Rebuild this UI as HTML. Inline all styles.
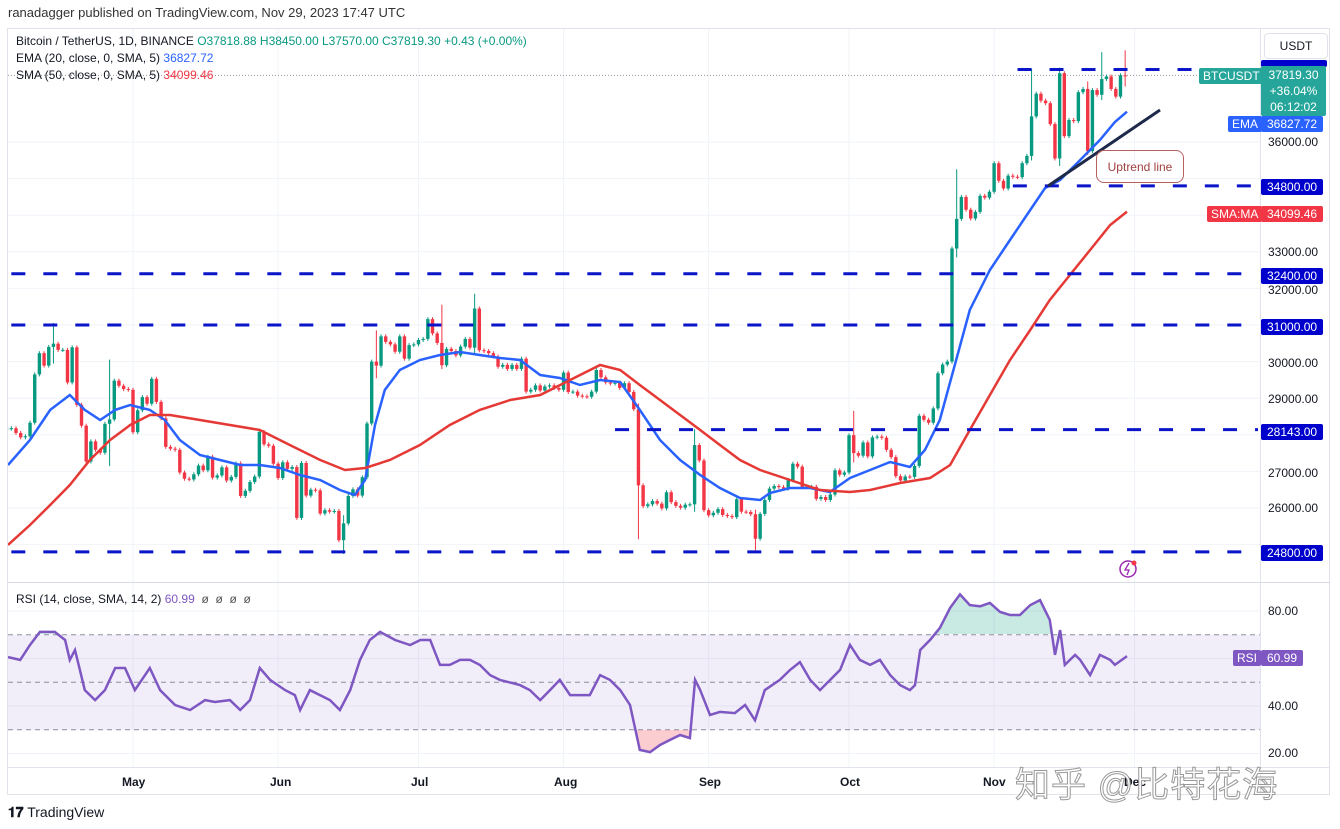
<!DOCTYPE html>
<html><head><meta charset="utf-8">
<style>
body{margin:0;width:1340px;height:829px;background:#fff;overflow:hidden;font-family:"Liberation Sans",sans-serif;position:relative;color:#131722}
.a{position:absolute;white-space:nowrap}
.ax{position:absolute;left:1268px;font-size:12px;color:#131722}
.tag{position:absolute;font-size:12px;color:#fff;padding:1px 4px;border-radius:2px}
.tm{position:absolute;top:775px;font-size:12px;font-weight:bold;color:#131722}
</style></head><body>
<div class="a" style="left:8px;top:5px;font-size:13px;color:#333">ranadagger published on TradingView.com, Nov 29, 2023 17:47 UTC</div>
<div class="a" style="left:7px;top:28px;width:1323px;height:767px;border:1px solid #e0e3eb;box-sizing:border-box"></div>
<svg id="chart" width="1340" height="829" style="position:absolute;left:0;top:0"></svg>
<div class="a" style="left:16px;top:34px;font-size:12px">Bitcoin / TetherUS, 1D, BINANCE <span style="color:#089981">O37818.88 H38450.00 L37570.00 C37819.30 +0.43 (+0.00%)</span></div>
<div class="a" style="left:16px;top:51px;font-size:12px">EMA (20, close, 0, SMA, 5) <span style="color:#2962ff">36827.72</span></div>
<div class="a" style="left:16px;top:68px;font-size:12px">SMA (50, close, 0, SMA, 5) <span style="color:#f23645">34099.46</span></div>
<div class="a" style="left:16px;top:592px;font-size:12px">RSI (14, close, SMA, 14, 2) <span style="color:#7e57c2">60.99</span> <span style="color:#555">&nbsp;ø&nbsp; ø&nbsp; ø&nbsp; ø</span></div>
<div class="a" style="left:1264px;top:33px;width:62px;height:24px;border:1px solid #e0e3eb;border-radius:4px;font-size:12px;text-align:center;line-height:24px">USDT</div>
<div class="ax" style="top:135px">36000.00</div>
<div class="ax" style="top:245px">33000.00</div>
<div class="ax" style="top:283px">32000.00</div>
<div class="ax" style="top:356px">30000.00</div>
<div class="ax" style="top:392px">29000.00</div>
<div class="ax" style="top:466px">27000.00</div>
<div class="ax" style="top:501px">26000.00</div>
<div class="ax" style="top:604px">80.00</div>
<div class="ax" style="top:699px">40.00</div>
<div class="ax" style="top:746px">20.00</div>
<div class="tag" style="left:1261px;top:60px;background:#0000cc;width:58px;height:5px;overflow:hidden"></div>
<div class="tag" style="left:1199px;top:68px;background:#26a69a">BTCUSDT</div>
<div class="tag" style="left:1261px;top:66px;background:#26a69a;width:59px;line-height:16px;text-align:center;padding:1px 3px">37819.30<br>+36.04%<br>06:12:02</div>
<div class="tag" style="left:1228px;top:116px;background:#2962ff">EMA</div>
<div class="tag" style="left:1261px;top:116px;background:#2962ff;padding:1px 6px">36827.72</div>
<div class="tag" style="left:1261px;top:179px;background:#0000cc;padding:1px 6px">34800.00</div>
<div class="tag" style="left:1207px;top:206px;background:#f23645">SMA:MA</div>
<div class="tag" style="left:1261px;top:206px;background:#f23645;padding:1px 6px">34099.46</div>
<div class="tag" style="left:1261px;top:268px;background:#0000cc;padding:1px 6px">32400.00</div>
<div class="tag" style="left:1261px;top:319px;background:#0000cc;padding:1px 6px">31000.00</div>
<div class="tag" style="left:1261px;top:424px;background:#0000cc;padding:1px 6px">28143.00</div>
<div class="tag" style="left:1261px;top:545px;background:#0000cc;padding:1px 6px">24800.00</div>
<div class="tag" style="left:1233px;top:650px;background:#7e57c2">RSI</div>
<div class="tag" style="left:1261px;top:650px;background:#7e57c2;padding:1px 6px">60.99</div>
<div class="a" style="left:1096px;top:150px;width:88px;height:33px;border:1.5px solid #b86060;border-radius:8px;font-size:12px;color:#a04040;text-align:center;line-height:33px;box-sizing:border-box">Uptrend line</div>
<div class="tm" style="left:122px">May</div>
<div class="tm" style="left:270px">Jun</div>
<div class="tm" style="left:411px">Jul</div>
<div class="tm" style="left:554px">Aug</div>
<div class="tm" style="left:699px">Sep</div>
<div class="tm" style="left:840px">Oct</div>
<div class="tm" style="left:983px">Nov</div>
<div class="tm" style="left:1124px">Dec</div>
<div class="a" style="left:1015px;top:757px;font-size:35px;color:#fff;font-family:'Liberation Sans','Noto Sans CJK SC',sans-serif;-webkit-text-stroke:1px #999;letter-spacing:1px">知乎 @比特花海</div>
<div class="a" style="left:8px;top:804px;font-size:14px;color:#131722"><b>𝟏𝟕</b> TradingView</div>
<script>
const closes=[28170,28180,28050,27930,27960,28330,29650,30230,29890,30400,30490,30320,30320,29430,30390,28820,28250,27270,27820,27590,27510,28300,28420,29480,29340,29250,29230,
28070,28670,29030,28850,29530,28900,28450,27670,27620,27590,26970,26800,26780,26920,27160,27030,27400,26830,26890,27110,26750,26850,27220,26330,26470,26710,26860,28080,27740,27700,27210,
26820,27250,27070,27120,25730,27230,26340,26500,26480,25850,25940,25900,25920,25120,25580,26330,26510,26340,26840,28310,30000,29890,30690,30540,30470,30270,30690,30080,30450,30470,
30590,30620,31160,30770,30510,29900,30350,30290,30170,30410,30620,30380,31450,30310,30290,30230,30140,29860,29910,29800,29910,29800,30080,29180,29230,29350,29210,29320,29350,29280,29230,
29700,29170,29180,29070,29050,29040,29180,29770,29570,29430,29400,29420,29280,29410,29170,28700,26620,26050,26100,26190,26120,25990,26430,26160,26060,26010,26090,26100,27720,27300,25940,
25800,25870,25970,25810,25780,25750,26240,25900,25890,25830,25160,25840,26220,26530,26600,26570,26530,26760,27210,27130,26570,26580,26580,26250,26300,26220,26370,27030,26910,26970,
27990,27500,27430,27790,27410,27930,27950,27920,27590,27390,26870,26750,26860,26850,27150,28520,28410,28330,28720,29680,29920,30000,33090,33900,34500,34150,33910,34090,34530,34480,34640,
35420,34940,34730,35080,35050,35040,35420,35620,36700,37320,37130,37060,36490,35550,37880,36160,36600,36570,37360,37450,35750,37420,37290,37720,37790,37450,37240,37820,37819.3];
const firstOpen=28160;
const startDay=3;
const spikeDays=[13,25,75,82,96,103,138,150,163,184,206,222,228,234,237,242];
const spikeHighs=[31000,30000,25750,30800,31500,31800,28800,28100,25900,28600,35200,37950,37980,37600,38400,38450];
const spikeLows=[30000,27200,24800,29600,29850,30250,25200,25950,24900,27300,32900,35550,35400,35700,37200,37570];
const emaDays=[3.3,8,12.3,16.5,19.7,23,26.2,29.4,33.6,36.8,40,44.3,48.6,52.9,57.1,61.4,65.7,70,74.2,77.4,79.6,81.7,83.8,87,91.3,95.6,99.9,104.1,108.4,112.7,117,121.2,125.5,129.8,134.1,138.3,142.6,146.9,151.2,155.4,159.7,164,166.1,170.4,174.7,178.9,183.2,187.5,191.8,196,199.2,202.4,205.6,208.8,213.1,217.4,221.7,224.9,228.1,232.4,236.6,239.8,242.4];
const emaVals=[27175,27859,28680,29088,28680,28405,28680,28815,28680,28405,27859,27449,27312,27175,27175,27094,26902,26766,26493,26356,26766,28268,29225,29771,30044,30181,30263,30181,30099,30044,29634,29552,29361,29498,29443,28680,27859,27312,26902,26547,26274,26219,26411,26547,26547,26438,26820,27039,27258,27121,27586,28405,29908,31410,32503,33323,34142,34743,34962,35508,36055,36546,36828];
const smaDays=[3.3,8,12.3,16.5,20.8,25.1,29.4,33.6,37.9,44.3,50.7,57.1,63.5,70,75.3,79.6,84.9,91.3,97.7,104.1,110.6,117,123.4,129.8,134.1,138.3,142.6,146.9,151.2,155.4,159.7,164,170.4,176.8,183.2,187.5,193.9,200.3,204.6,208.8,213.1,217.4,221.7,225.9,230.2,234.5,238.8,242.4];
const smaVals=[24990,25536,26083,26629,27312,27859,28268,28542,28542,28405,28268,28132,27722,27312,27039,27094,27312,27722,28268,28680,28951,29088,29498,29908,29771,29361,28951,28542,28132,27722,27312,27039,26766,26493,26438,26493,26684,26820,27175,28132,29088,30044,30864,31683,32366,33050,33733,34099];
const rsiDays=[3.3,5.9,8,10.1,13.3,15.5,16.5,17.6,19.7,21.9,24,26.2,28.3,30.4,33.6,35.8,39,42.2,45.4,47.5,50.7,52.9,55,57.1,59.3,62.5,64.6,65.7,67.8,72.1,74.2,76.4,78.5,80.6,82.8,86,89.2,91.4,93.5,95.6,97.7,99.9,102,104.1,106.3,108.4,112.7,114.8,117,119.1,121.2,123.4,127.6,129.8,131.9,134.1,136.2,138.3,140.5,142.6,144.7,146.9,149,150.1,151.2,153.3,155.4,158.6,160.8,162.9,165,168.2,170.4,172.5,174.7,176.8,181.1,183.2,185.3,187.5,189.6,191.8,193.9,196,197.1,198.2,200.3,202.4,204.6,206.7,208.8,211,213.1,215.3,217.4,219.5,221.7,223.8,225.9,227,228.1,229.1,231.3,232.4,234.5,236.6,238.8,239.8,242.4];
const rsiVals=[60.6,59.4,65.7,71.2,71.2,67.8,59.4,63.6,46.7,42.5,46.7,56,56,46.7,56,46.7,40.4,38.3,42.5,41.7,42.5,38.3,42.5,56,51,46.7,44.6,38.3,46.7,42.5,38.3,46.7,59.4,67.8,71.2,67.8,65.7,67.8,67.8,57.3,57.3,59.4,59.4,57.3,53,51,48.8,46.7,42.5,46.7,51,44.6,44.6,53,51,46.7,40.4,21.5,20.6,23.6,25.7,27.8,26.5,51,46.7,36.2,37.5,37,40.4,34,46.7,51,55.2,58.5,51,46.7,55.2,65.7,59.4,57.3,59.4,53,48.8,46.7,48.8,63.6,67.8,72.8,81.3,87,82.5,82,83.4,79.6,78.3,78.3,82.5,84.6,76.2,61.5,72,57.3,61.5,59.4,53,61.5,59.4,57.3,61];
const levelPrices=[37980,34800,32400,31000,28143,24800];
const levelStartDays=[219,218,4,4,133,4];
const priceTicks=[36000,35000,34000,33000,32000,31000,30000,29000,28000,27000,26000,25000];
const monthDays=[30,61,91,122,153,183,214,244];

const NS='http://www.w3.org/2000/svg';
const svg=document.getElementById('chart');
const X=d=>133+(d-30)*4.68;
const Y=p=>142+(36000-p)*0.0366;
const RY=v=>611+(80-v)*2.375;
function mk(tag,at,parent){const e=document.createElementNS(NS,tag);for(const k in at)e.setAttribute(k,at[k]);(parent||svg).appendChild(e);return e;}
const defs=mk('defs',{});
const cp=mk('clipPath',{id:'mainclip'},defs);mk('rect',{x:8,y:29,width:1252,height:552},cp);
const cr=mk('clipPath',{id:'rsiclip'},defs);mk('rect',{x:8,y:584,width:1252,height:183},cr);
const cob=mk('clipPath',{id:'obclip'},defs);mk('rect',{x:8,y:584,width:1252,height:50},cob);
const cos=mk('clipPath',{id:'osclip'},defs);mk('rect',{x:8,y:730,width:1252,height:40},cos);
for(const d of monthDays){const l=mk('line',{x1:X(d),x2:X(d),y1:29,y2:767,stroke:'#f0f3fa'});

}
for(const p of priceTicks){const l=mk('line',{x1:8,x2:1260,y1:Y(p),y2:Y(p),stroke:'#f0f3fa'});

}
for(const v of [80,60,40,20]){const l=mk('line',{x1:8,x2:1260,y1:RY(v),y2:RY(v),stroke:'#f0f3fa'});

}
mk('line',{x1:8,x2:1330,y1:582.5,y2:582.5,stroke:'#d8dbe3'});
mk('line',{x1:8,x2:1330,y1:767.5,y2:767.5,stroke:'#e0e3eb'});
mk('line',{x1:1260.5,x2:1260.5,y1:29,y2:795,stroke:'#e0e3eb'});
const cpl=mk('line',{x1:8,x2:1260,y1:Y(37819.3),y2:Y(37819.3),stroke:'#999','stroke-dasharray':'1 2'});


const gC=mk('g',{'clip-path':'url(#mainclip)'});
let prev=firstOpen;
closes.forEach((c,i)=>{const d=startDay+i;const o=prev;prev=c;
 const up=c>=o;const col=up?'#089981':'#f23645';
 let hi=Math.max(o,c),lo=Math.min(o,c);
 const si=spikeDays.indexOf(d);if(si>=0){hi=spikeHighs[si];lo=spikeLows[si];}
 const x=X(d);
 const w=mk('line',{x1:x,x2:x,y1:Y(hi)-2,y2:Y(lo)+2,stroke:col,'stroke-width':1},gC);
 
 
 const yt=Y(Math.max(o,c)),yb=Y(Math.min(o,c));
 const b=mk('rect',{x:x-1.7,y:yt,width:3.4,height:Math.max(1,yb-yt),fill:col},gC);
 
 
});
function pl(days,vals,f){return days.map((d,i)=>X(d).toFixed(1)+','+f(vals[i]).toFixed(1)).join(' ');}
const ema=mk('polyline',{points:pl(emaDays,emaVals,Y),fill:'none',stroke:'#2962ff','stroke-width':2.5,'clip-path':'url(#mainclip)'});


const sma=mk('polyline',{points:pl(smaDays,smaVals,Y),fill:'none',stroke:'#e53935','stroke-width':2.5,'clip-path':'url(#mainclip)'});


levelPrices.forEach((p,i)=>{const l=mk('line',{x1:Math.max(8,X(levelStartDays[i])),x2:1258,y1:Y(p),y2:Y(p),stroke:'#0a14c8','stroke-width':3,'stroke-dasharray':'14 18'});

});
const ut=mk('line',{x1:1048,y1:186,x2:1160,y2:110,stroke:'#1e2a4a','stroke-width':3});


const li=mk('circle',{cx:1128,cy:569,r:8,fill:'none',stroke:'#9c27b0','stroke-width':1.5});


mk('circle',{cx:1134,cy:563,r:2.5,fill:'#f23645'});
mk('path',{d:'M1129 563 L1125 570 L1129 570 L1127 575',fill:'none',stroke:'#9c27b0','stroke-width':1.3});
const band=mk('rect',{x:8,y:RY(70),width:1252,height:RY(30)-RY(70),fill:'rgba(126,87,194,0.1)'});


for(const v of [70,50,30]){const l=mk('line',{x1:8,x2:1260,y1:RY(v),y2:RY(v),stroke:'#8a8f9c','stroke-dasharray':'5 4'});

}
const rp=pl(rsiDays,rsiVals,RY);
const x0=X(rsiDays[0]).toFixed(1),x1=X(rsiDays[rsiDays.length-1]).toFixed(1);
const ob=mk('polygon',{points:x0+','+RY(70)+' '+rp+' '+x1+','+RY(70),fill:'rgba(8,153,129,0.22)','clip-path':'url(#obclip)'});


const os=mk('polygon',{points:x0+','+RY(30)+' '+rp+' '+x1+','+RY(30),fill:'rgba(242,54,69,0.25)','clip-path':'url(#osclip)'});


const rsi=mk('polyline',{points:rp,fill:'none',stroke:'#7e57c2','stroke-width':2.5,'clip-path':'url(#rsiclip)'});


</script>
</body></html>
